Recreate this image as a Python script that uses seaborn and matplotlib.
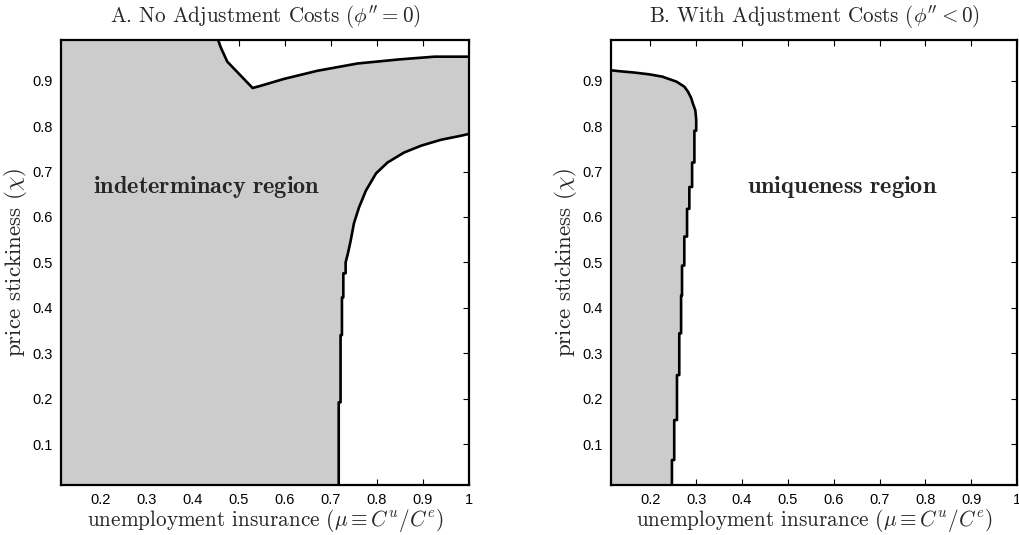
import numpy as np
import pandas as pd
import matplotlib
matplotlib.use("Agg")
import matplotlib.pyplot as plt
import seaborn as sns

# ---------------- data ----------------
x_ticks = [0.2, 0.3, 0.4, 0.5, 0.6, 0.7, 0.8, 0.9, 1.0]
x_tick_labels = ["0.2", "0.3", "0.4", "0.5", "0.6", "0.7", "0.8", "0.9", "1"]
y_ticks = [0.1, 0.2, 0.3, 0.4, 0.5, 0.6, 0.7, 0.8, 0.9]
y_tick_labels = ["0.1", "0.2", "0.3", "0.4", "0.5", "0.6", "0.7", "0.8", "0.9"]
x_range = [0.114, 1.0]
y_range = [0.01, 0.99]

# Panel A: lower-right boundary (uniqueness region below/right)
a_low_x = [0.717, 0.717, 0.721, 0.721, 0.724, 0.724, 0.727, 0.727, 0.732, 0.732,
           0.737, 0.743, 0.750, 0.761, 0.776, 0.798, 0.823, 0.859, 0.896, 0.939, 0.983, 1.0]
a_low_y = [0.01, 0.192, 0.192, 0.340, 0.340, 0.423, 0.423, 0.476, 0.476, 0.500,
           0.520, 0.548, 0.586, 0.621, 0.658, 0.696, 0.720, 0.742, 0.757, 0.770, 0.779, 0.783]
# Panel A: upper boundary (uniqueness region above)
a_up_x = [0.455, 0.461, 0.475, 0.530, 0.548, 0.598, 0.671, 0.758, 0.849, 0.925, 1.0]
a_up_y = [0.99, 0.973, 0.942, 0.884, 0.889, 0.904, 0.922, 0.938, 0.947, 0.953, 0.953]

# Panel B: boundary of indeterminacy region (left)
b_x = [0.247, 0.247, 0.252, 0.252, 0.258, 0.258, 0.263, 0.263, 0.267, 0.267,
       0.269, 0.269, 0.274, 0.274, 0.280, 0.280, 0.285, 0.285, 0.291, 0.291,
       0.296, 0.296, 0.300, 0.300, 0.298, 0.292, 0.289, 0.282, 0.274, 0.257,
       0.240, 0.226, 0.198, 0.165, 0.132, 0.114]
b_y = [0.01, 0.065, 0.065, 0.153, 0.153, 0.252, 0.252, 0.344, 0.344, 0.427,
       0.427, 0.493, 0.493, 0.557, 0.557, 0.618, 0.618, 0.666, 0.666, 0.720,
       0.720, 0.790, 0.790, 0.815, 0.835, 0.852, 0.862, 0.876, 0.887, 0.898,
       0.904, 0.909, 0.914, 0.918, 0.921, 0.923]

titles = [r"A. No Adjustment Costs ($\phi'' = 0$)",
          r"B. With Adjustment Costs ($\phi'' < 0$)"]
x_label = r"unemployment insurance ($\mu \equiv C^u/C^e$)"
y_label = r"price stickiness ($\chi$)"
region_labels = [r"$\mathbf{indeterminacy\ region}$", r"$\mathbf{uniqueness\ region}$"]
region_pos = [(0.431, 0.665), (0.618, 0.665)]

# ---------------- style ----------------
sns.set_style("ticks")
plt.rcParams["mathtext.fontset"] = "cm"
plt.rcParams["font.family"] = ["Liberation Sans", "DejaVu Sans"]

GRAY = "#cccccc"
fig = plt.figure(figsize=(10.19, 5.35), dpi=100)
axA = fig.add_axes([0.0599, 0.0935, 0.4004, 0.832])
axB = fig.add_axes([0.5996, 0.0935, 0.3984, 0.832])

serif = {"family": "cmr10"}

for ax in (axA, axB):
    ax.set_facecolor("white")

# Panel A fill: gray region polygon
polyA_x = [x_range[0]] + a_low_x + [1.0] + a_up_x[::-1] + [x_range[0]]
polyA_y = [y_range[0]] + a_low_y + [a_up_y[-1]] + a_up_y[::-1] + [y_range[1]]
axA.fill(polyA_x, polyA_y, color=GRAY, lw=0, zorder=1)
sns.lineplot(x=a_low_x, y=a_low_y, sort=False, estimator=None, color="black",
             lw=1.9, ax=axA, zorder=3)
sns.lineplot(x=a_up_x, y=a_up_y, sort=False, estimator=None, color="black",
             lw=1.9, ax=axA, zorder=3)

# Panel B fill
polyB_x = [x_range[0]] + b_x
polyB_y = [y_range[0]] + b_y
axB.fill(polyB_x, polyB_y, color=GRAY, lw=0, zorder=1)
sns.lineplot(x=b_x, y=b_y, sort=False, estimator=None, color="black",
             lw=1.9, ax=axB, zorder=3)

for i, ax in enumerate((axA, axB)):
    ax.set_xlim(*x_range)
    ax.set_ylim(*y_range)
    ax.set_xticks(x_ticks)
    ax.set_xticklabels(x_tick_labels)
    ax.set_yticks(y_ticks)
    ax.set_yticklabels(y_tick_labels)
    ax.tick_params(direction="in", length=4, width=0.8, top=True, right=True,
                   labelsize=10.5, colors="black", pad=6)
    for s in ax.spines.values():
        s.set_visible(True)
        s.set_linewidth(1.6)
        s.set_color("black")
        s.set_zorder(5)
    ax.set_title(titles[i], fontsize=15.2, fontdict=serif, pad=12)
    ax.set_xlabel(x_label, fontsize=15.3, fontdict=serif, labelpad=0)
    ax.set_ylabel(y_label, fontsize=16.5, fontdict=serif)
    ax.yaxis.set_label_coords(-0.078, 0.5)
    ax.text(region_pos[i][0], region_pos[i][1], region_labels[i], fontsize=17.5,
            ha="center", va="center", zorder=4)

fig.savefig("out.png", dpi=100)
